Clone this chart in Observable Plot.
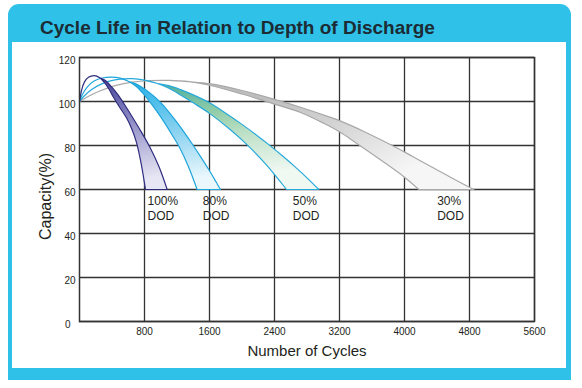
<!DOCTYPE html>
<html><head><meta charset="utf-8">
<script src="https://cdn.jsdelivr.net/npm/d3@7"></script>
<script src="https://cdn.jsdelivr.net/npm/@observablehq/plot@0.6"></script>
<style>
html,body{margin:0;padding:0;background:#fff;}
#wrap{position:relative;width:582px;height:388px;overflow:hidden;font-family:"Liberation Sans",Arial,sans-serif;}
#frame{position:absolute;left:8px;top:4px;width:563px;height:376px;background:#2fc1e8;border-radius:11px 11px 0 0;}
#inner{position:absolute;left:12px;top:42px;width:554px;height:326px;background:#fff;}
#title{position:absolute;left:40px;top:18px;font-size:19px;line-height:19px;font-weight:bold;color:#1c2b34;white-space:nowrap;}
#chart{position:absolute;left:0;top:0;}
</style></head><body>
<div id="wrap"><div id="frame"></div><div id="inner"></div><div id="title">Cycle Life in Relation to Depth of Discharge</div><div id="chart"></div></div>
<script>
// ---- data (cycles, capacity %) ----
const xTicks = [800, 1600, 2400, 3200, 4000, 4800, 5600];
const yTicks = [0, 20, 40, 60, 80, 100, 120];
const dodLabels = ["100%\nDOD", "80%\nDOD", "50%\nDOD", "30%\nDOD"];
const labelCycles = [837, 1518, 2626, 4402];
const labelCapacity = [58, 58, 58, 58];

const dod100Left = [[0,100],[25,105],[60,108.8],[110,111],[180,111.8],[250,110.8],[310,108.5],[360,105.8],[420,101.8],[490,97.6],[580,92.5],[640,87.8],[700,81.5],[760,71.5],[812,60]];
const dod100Right = [[0,100],[25,105],[60,108.8],[110,111],[180,111.8],[250,110.8],[320,109.5],[398,106.5],[470,103.2],[542,99.3],[644,93.3],[760,86.2],[870,79],[980,70.2],[1079,60]];

const dod80Left = [[0,100],[40,103.5],[100,106.8],[180,109.3],[280,110.7],[398,111.1],[500,110.6],[600,109.2],[700,106.8],[780,103.8],[850,100.6],[950,95.6],[1050,90.2],[1150,84.2],[1230,79.2],[1340,70.5],[1448,60]];
const dod80Right = [[0,100],[40,103.5],[100,106.8],[180,109.3],[280,110.7],[398,111.1],[500,110.6],[600,109.2],[700,107.9],[800,105.7],[900,102.9],[1000,99.5],[1100,95.2],[1200,90.5],[1300,85.4],[1400,80],[1500,74.4],[1600,68.5],[1680,63.5],[1735,60]];

const dod50Left = [[0,100],[60,102.6],[150,105.5],[260,107.8],[380,109.4],[500,110.2],[650,110.4],[800,109.7],[950,108.3],[1100,106],[1243,103],[1400,99.4],[1600,94.6],[1850,87.4],[2064,80.3],[2300,71.2],[2548,60]];
const dod50Right = [[0,100],[60,102.6],[150,105.5],[260,107.8],[380,109.4],[500,110.2],[650,110.4],[800,109.7],[950,108.3],[1100,107.2],[1243,105.4],[1400,103],[1600,99.4],[1800,94.7],[2000,89.6],[2180,84.7],[2326,80.5],[2500,75.2],[2650,70.4],[2800,65.3],[2945,60]];

const dod30Left = [[0,100],[100,102.2],[250,104.8],[450,107.3],[650,108.8],[850,109.5],[1100,109.6],[1350,109],[1600,107.4],[2000,103.4],[2400,98.8],[2720,95],[3000,90.2],[3200,86.2],[3418,80.8],[3700,73.6],[4000,65.6],[4176,60]];
const dod30Right = [[0,100],[100,102.2],[250,104.8],[450,107.3],[650,108.8],[850,109.5],[1100,109.6],[1350,109],[1600,108.1],[2000,105],[2400,101],[2720,97.4],[3089,92.8],[3200,91.3],[3500,86.4],[3849,80],[4100,75],[4353,69.9],[4600,64.9],[4853,60]];

// ---- build closed band outlines ----
function band(left, right) {
  return [...left, left[left.length - 1], right[right.length - 1], ...right.slice().reverse()];
}
const bands = [
  {pts: band(dod30Left, dod30Right), fill: "url(#g30)", stroke: "#a8a8a8"},
  {pts: band(dod50Left, dod50Right), fill: "url(#g50)", stroke: "#27a9db"},
  {pts: band(dod80Left, dod80Right), fill: "url(#g80)", stroke: "#1ea5dc"},
  {pts: band(dod100Left, dod100Right), fill: "url(#g100)", stroke: "#2f2c80"}
];

const gridStyle = {stroke: "#333", strokeOpacity: 1, strokeWidth: 1.3};

const chart = Plot.plot({
  width: 582, height: 388,
  marginLeft: 79, marginRight: 48, marginTop: 57, marginBottom: 67,
  x: {domain: [0, 5600], label: null},
  y: {domain: [0, 120], label: null},
  style: {background: "transparent", fontFamily: "'Liberation Sans', Arial, sans-serif", color: "#231f20", overflow: "visible"},
  marks: [
    Plot.gridX(xTicks, gridStyle),
    Plot.gridY(yTicks, gridStyle),
    ...bands.map(b => Plot.line(b.pts, {x: d => d[0], y: d => d[1], fill: b.fill, stroke: b.stroke, strokeWidth: 1.2, curve: "catmull-rom"})),
    Plot.frame({stroke: "#333", strokeWidth: 1.5}),
    Plot.axisX({ticks: xTicks, tickSize: 0, tickPadding: 6, fontSize: 10, tickFormat: d => String(d), label: null}),
    Plot.axisY({ticks: yTicks.filter(t => t > 0), tickSize: 0, tickPadding: 4, dy: 3, fontSize: 10, tickFormat: d => String(d), label: null}),
    Plot.text([String(yTicks[0])], {frameAnchor: "bottom-left", textAnchor: "end", dx: -9, dy: 6, fontSize: 10}),
    Plot.text(dodLabels, {x: (d, i) => labelCycles[i], y: (d, i) => labelCapacity[i], text: d => d, textAnchor: "start", lineAnchor: "top", lineHeight: 1.25, fontSize: 12}),
    Plot.text(["Number of Cycles"], {frameAnchor: "bottom", textAnchor: "middle", dy: 34, lineAnchor: "bottom", fontSize: 15}),
    Plot.text(["Capacity(%)"], {frameAnchor: "left", textAnchor: "middle", lineAnchor: "middle", dx: -34, dy: 7, rotate: -90, fontSize: 16})
  ]
});

// gradients
const NS = "http://www.w3.org/2000/svg";
const defs = document.createElementNS(NS, "defs");
function grad(id, x2, y2, stops) {
  const g = document.createElementNS(NS, "linearGradient");
  g.setAttribute("id", id);
  g.setAttribute("x1", "0"); g.setAttribute("y1", "0");
  g.setAttribute("x2", x2); g.setAttribute("y2", y2);
  stops.forEach(([o, c]) => {
    const s = document.createElementNS(NS, "stop");
    s.setAttribute("offset", o); s.setAttribute("stop-color", c);
    g.appendChild(s);
  });
  defs.appendChild(g);
}
grad("g100", "0.15", "1", [[0, "#3b378b"], [0.25, "#6663ad"], [0.62, "#a9a7d3"], [1, "#e6e6f4"]]);
grad("g80", "0.15", "1", [[0, "#1fa8e0"], [0.22, "#40b9e9"], [0.61, "#92d5f1"], [1, "#eaf7fd"]]);
grad("g50", "0.3", "1", [[0, "#2fa6c0"], [0.2, "#5db59e"], [0.45, "#96cfab"], [0.65, "#bfe1c8"], [1, "#f0f8f2"]]);
grad("g30", "1", "0.5", [[0, "#b8b8b8"], [0.45, "#bfbfbf"], [0.7, "#d6d6d6"], [1, "#f6f6f6"]]);
chart.insertBefore(defs, chart.firstChild);

document.getElementById("chart").appendChild(chart);
</script>
</body></html>
